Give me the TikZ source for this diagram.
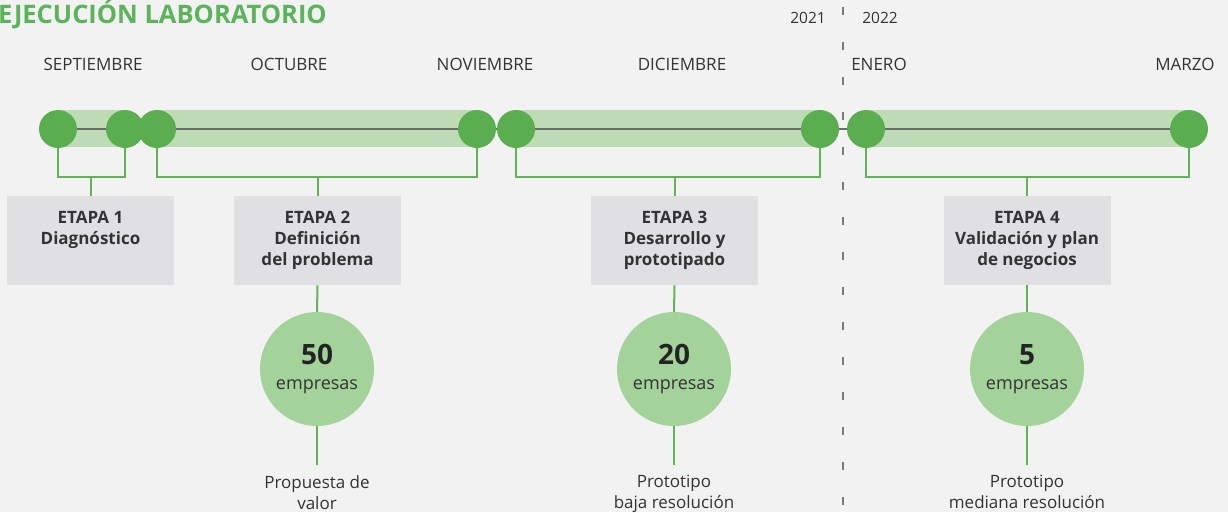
\documentclass[tikz,border=0pt]{standalone}
\usepackage{fontspec}
\setmainfont{Open Sans}
\usetikzlibrary{positioning}

\definecolor{fondo}{HTML}{F2F2F2}
\definecolor{verde}{HTML}{5BAE50}
\definecolor{banda}{HTML}{BDDCB5}
\definecolor{gris}{HTML}{E0E0E2}
\definecolor{claro}{HTML}{A3D29B}
\definecolor{linea}{HTML}{5DB553}
\definecolor{eje}{HTML}{6B6B6B}
\definecolor{texto}{HTML}{333333}
\definecolor{titulo}{HTML}{5BB35A}

\newcommand{\empresas}[1]{{\fontsize{28}{30}\selectfont\bfseries\color{texto!70!black}#1}\\[3pt]empresas}

\begin{document}
\begin{tikzpicture}[x=1pt,y=-1pt,
  hito/.style={circle,fill=verde,minimum size=38pt,inner sep=0pt},
  caja/.style={rectangle,fill=gris,minimum width=167pt,minimum height=89pt,anchor=north},
  etapa/.style={anchor=north,align=center,inner sep=0pt,text=texto,
    font=\fontsize{17}{21}\selectfont\bfseries},
  cifra/.style={circle,fill=claro,minimum size=114pt,inner sep=0pt,align=center,
    text=texto,font=\fontsize{18}{22}\selectfont},
  nota/.style={align=center,inner sep=2pt,text=texto,font=\fontsize{17}{21}\selectfont},
  mes/.style={anchor=base,text=texto,font=\fontsize{17}{20}\selectfont},
  anio/.style={anchor=base,text=texto,font=\fontsize{15.5}{18}\selectfont},
  conector/.style={draw=linea,line width=2pt},
  divisor/.style={draw=eje!90,line width=2.5pt,dash pattern=on 8pt off 27pt}]

\fill[fondo] (0,0) rectangle (1228,512);
\useasboundingbox (0,0) rectangle (1228,512);

% titulo y meses
\node[anchor=base west,inner sep=0pt,text=titulo,font=\fontsize{25.5}{28}\selectfont\bfseries]
  (tit) at (-2,23) {EJECUCIÓN LABORATORIO};
\foreach \x/\mes [count=\i] in {93/SEPTIEMBRE,289/OCTUBRE,485/NOVIEMBRE,
    682/DICIEMBRE,879/ENERO,1185/MARZO}
  \node[mes] (mes\i) at (\x,70) {\mes};
\node[anio] (a2021) at (808,23) {2021};
\node[anio] (a2022) at (880,23) {2022};
\draw[divisor] (843,7) -- (843,512);

% linea de tiempo
\foreach \x [count=\i] in {58,125,157,477,516,820,866,1189}
  \coordinate (t\i) at (\x,129);
\fill[banda] (58,110) rectangle (125,147);
\fill[banda] (157,110) rectangle (477,147);
\fill[banda] (516,110) rectangle (820,147);
\fill[banda] (866,110) rectangle (1189,147);
\draw[eje,line width=2.5pt] (t1) -- (t8);
\foreach \i in {1,...,8}
  \node[hito] (h\i) at (t\i) {};

% etapas
\node[caja] (e1) at (90.5,196) {};
\node[caja] (e2) at (317.5,196) {};
\node[caja] (e3) at (674.5,196) {};
\node[caja] (e4) at (1027,196) {};
\node[etapa] (et1) at ([yshift=-15pt]e1.north) {ETAPA 1\\Diagnóstico};
\node[etapa] (et2) at ([yshift=-15pt]e2.north) {ETAPA 2\\Definición\\del problema};
\node[etapa] (et3) at ([yshift=-15pt]e3.north) {ETAPA 3\\Desarrollo y\\prototipado};
\node[etapa] (et4) at ([yshift=-15pt]e4.north) {ETAPA 4\\Validación y plan\\de negocios};

\foreach \i/\a/\b in {1/1/2,2/3/4,3/5/6,4/7/8} {
  \path (e\i.north) ++(0,-19) coordinate (b\i);
  \draw[conector] (h\a.south) |- (b\i) -| (h\b.south);
  \draw[conector] (b\i) -- (e\i.north);
}

% resultados
\node[cifra] (c2) at (317,369) {\empresas{50}};
\node[cifra] (c3) at (674,369) {\empresas{20}};
\node[cifra] (c4) at (1027,369) {\empresas{5}};
\coordinate (f2) at (317,465);
\coordinate (f3) at (674,465);
\coordinate (f4) at (1027,465);
\foreach \i in {2,3,4} {
  \draw[conector] (e\i.south) -- (c\i.north);
  \draw[conector] (c\i.south) -- (f\i);
}
\node[nota,below=8pt of f2] (n2) {Propuesta de\\valor};
\node[nota,below=8pt of f3] (n3) {Prototipo\\baja resolución};
\node[nota,below=8pt of f4] (n4) {Prototipo\\mediana resolución};
\end{tikzpicture}
\end{document}
